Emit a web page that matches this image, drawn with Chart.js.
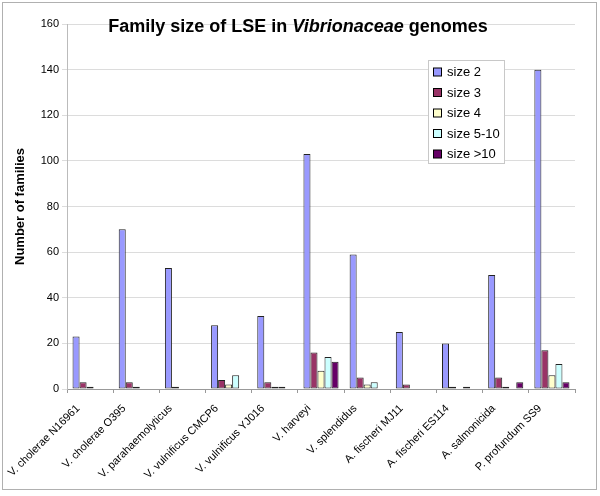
<!DOCTYPE html>
<html>
<head>
<meta charset="utf-8">
<script src="https://cdn.jsdelivr.net/npm/chart.js@4/dist/chart.umd.min.js"></script>
<style>
  html, body { margin: 0; padding: 0; background: #fff; }
  #wrap { width: 600px; height: 496px; position: relative; }
</style>
</head>
<body>
<div id="wrap"><canvas id="c" width="600" height="496"></canvas></div>
<script>
const categories = ["V. cholerae N16961", "V. cholerae O395", "V. parahaemolyticus", "V. vulnificus CMCP6", "V. vulnificus YJ016", "V. harveyi", "V. splendidus", "A. fischeri MJ11", "A. fischeri ES114", "A. salmonicida", "P. profundum SS9"];
const size2    = [23, 70, 53, 28, 32, 103, 59, 25, 20, 50, 140];
const size3    = [3, 3, 1, 4, 3, 16, 5, 2, 1, 5, 17];
const size4    = [1, 1, 0, 2, 1, 8, 2, 0, 0, 1, 6];
const size5to10 = [0, 0, 0, 6, 1, 14, 3, 0, 1, 0, 11];
const sizeOver10 = [0, 0, 0, 0, 0, 12, 0, 0, 0, 3, 3];
const seriesLabels = ["size 2", "size 3", "size 4", "size 5-10", "size >10"];
const seriesColors = ["#9999FF", "#993366", "#FFFFCC", "#CCFFFF", "#660066"];
const yTicks = [0, 20, 40, 60, 80, 100, 120, 140, 160];

const seriesData = [size2, size3, size4, size5to10, sizeOver10];
const FONT = "Arial, 'Liberation Sans', sans-serif";

const decor = {
  id: 'decor',
  afterDraw(chart) {
    const ctx = chart.ctx;
    ctx.save();
    // outer border
    ctx.strokeStyle = '#b0b0b0';
    ctx.lineWidth = 1;
    ctx.strokeRect(2.5, 2.5, 594, 487);
    // title with italic part
    const parts = [
      {t: "Family size of LSE in ", f: "bold 18px " + FONT},
      {t: "Vibrionaceae", f: "italic bold 18px " + FONT},
      {t: " genomes", f: "bold 18px " + FONT}
    ];
    let total = 0;
    parts.forEach(p => { ctx.font = p.f; p.w = ctx.measureText(p.t).width; total += p.w; });
    let x = 298 - total / 2;
    ctx.fillStyle = '#000';
    ctx.textBaseline = 'middle';
    ctx.textAlign = 'left';
    parts.forEach(p => { ctx.font = p.f; ctx.fillText(p.t, x, 27); x += p.w; });
    // legend
    const lx = 428.5, ly = 60.5, lw = 76, lh = 103;
    ctx.fillStyle = '#fff';
    ctx.fillRect(lx, ly, lw, lh);
    ctx.strokeStyle = '#c8c8c8';
    ctx.strokeRect(lx, ly, lw, lh);
    ctx.font = "13px " + FONT;
    chart.data.datasets.forEach((ds, i) => {
      const cy = 72 + i * 20.5;
      ctx.fillStyle = ds.backgroundColor;
      ctx.fillRect(433.5, cy - 4, 8, 8);
      ctx.strokeStyle = '#000';
      ctx.strokeRect(433.5, cy - 4, 8, 8);
      ctx.fillStyle = '#000';
      ctx.fillText(ds.label, 447, cy + 0.5);
    });
    ctx.restore();
  }
};

new Chart(document.getElementById('c'), {
  type: 'bar',
  data: {
    labels: categories,
    datasets: seriesData.map((d, i) => ({
      label: seriesLabels[i],
      data: d,
      backgroundColor: seriesColors[i],
      borderColor: '#222',
      borderWidth: (c) => (c.raw === 0 ? 0 : 1),
      borderSkipped: false,
      categoryPercentage: 0.76,
      barPercentage: 1.0
    }))
  },
  options: {
    responsive: false,
    animation: false,
    devicePixelRatio: 1,
    layout: { padding: { left: 0, top: 24, right: 25, bottom: 7 } },
    plugins: {
      legend: { display: false },
      title: { display: false },
      tooltip: { enabled: false }
    },
    scales: {
      x: {
        afterFit(scale) { scale.height = 100; },
        grid: { display: true, drawOnChartArea: false, offset: true, color: '#999', tickLength: 4 },
        border: { color: '#999' },
        ticks: {
          autoSkip: false,
          maxRotation: 45, minRotation: 45,
          color: '#000',
          font: { family: FONT, size: 11 },
          padding: 9,
          labelOffset: -12
        }
      },
      y: {
        min: 0, max: 160,
        afterFit(scale) { scale.width = 67; },
        afterBuildTicks(scale) { scale.ticks = yTicks.map(v => ({ value: v })); },
        grid: { color: '#dcdcdc', tickLength: 5, drawTicks: true },
        border: { color: '#bbb' },
        ticks: { color: '#000', font: { family: FONT, size: 11 }, padding: 3 },
        title: {
          display: true,
          text: 'Number of families',
          color: '#000',
          font: { family: FONT, size: 13, weight: 'bold' },
          padding: { top: 13, bottom: 0 }
        }
      }
    }
  },
  plugins: [decor]
});
</script>
</body>
</html>
